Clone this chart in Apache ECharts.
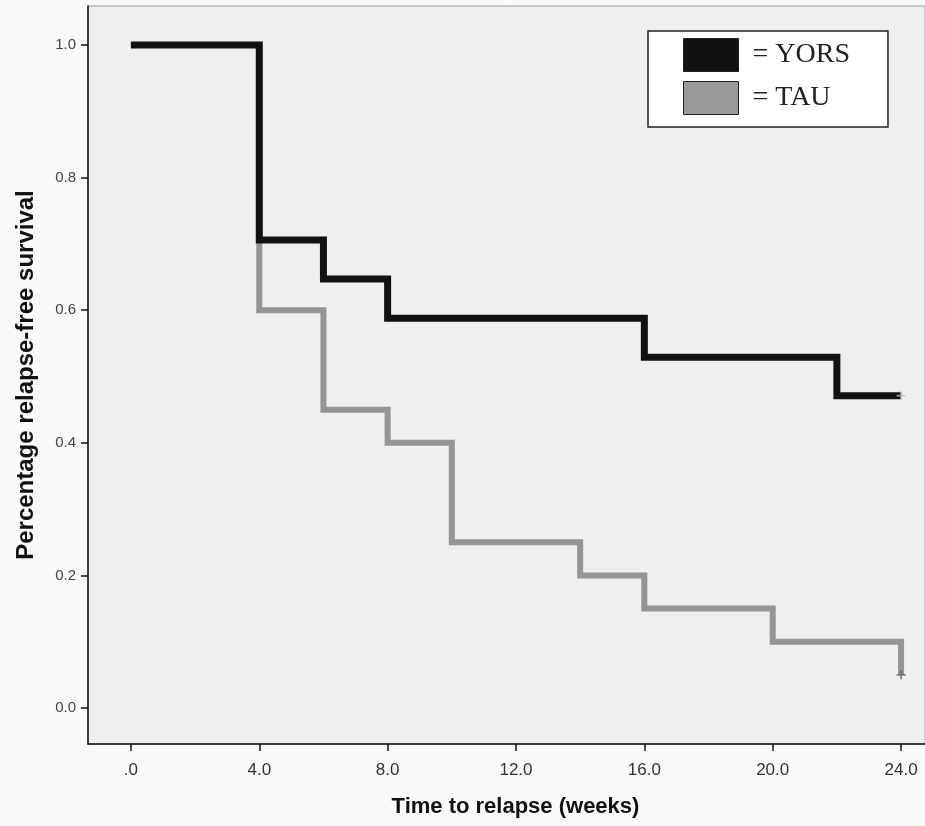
<!DOCTYPE html>
<html>
<head>
<meta charset="utf-8">
<script src="https://cdn.jsdelivr.net/npm/echarts@6/dist/echarts.min.js"></script>
<style>
  html, body { margin: 0; padding: 0; background: #fafafa; }
  #chart { width: 925px; height: 826px; }
</style>
</head>
<body>
<div id="chart"></div>
<script>
// Kaplan-Meier steps: [week, survival]
const yorsSteps = [[0, 1.0], [4, 0.706], [6, 0.647], [8, 0.588], [16, 0.529], [22, 0.471], [24, 0.471]];
const tauSteps = [[0, 1.0], [4, 0.60], [6, 0.45], [8, 0.40], [10, 0.25], [14, 0.20], [16, 0.15], [20, 0.10], [24, 0.05]];
// censored observations
const yorsCensored = [[24, 0.471]];
const tauCensored = [[24, 0.05]];

const xTicks = [0, 4, 8, 12, 16, 20, 24];
const xTickLabels = ['.0', '4.0', '8.0', '12.0', '16.0', '20.0', '24.0'];
const yTicks = [0, 0.2, 0.4, 0.6, 0.8, 1.0];
const yTickLabels = ['0.0', '0.2', '0.4', '0.6', '0.8', '1.0'];

const plus = 'path://M4,0h2v4h4v2h-4v4h-2v-4h-4v-2h4z';

const chart = echarts.init(document.getElementById('chart'));
chart.setOption({
  backgroundColor: '#fafafa',
  animation: false,
  grid: {
    left: 88,
    top: 6,
    right: -2,
    bottom: 82,
    show: true,
    backgroundColor: '#efefef',
    borderColor: '#999',
    borderWidth: 1,
  },
  legend: {
    data: ['YORS', 'TAU'],
    orient: 'vertical',
    left: 648,
    top: 31,
    icon: 'rect',
    itemWidth: 55,
    itemHeight: 33,
    itemGap: 9,
    padding: [7, 38, 12, 35],
    backgroundColor: '#fff',
    borderColor: '#222',
    borderWidth: 1.5,
    borderRadius: 0,
    itemStyle: { borderColor: '#222', borderWidth: 1 },
    formatter: name => '= ' + name,
    textStyle: {
      fontFamily: 'Liberation Serif, serif',
      fontSize: 28,
      color: '#222',
      padding: [0, 0, 0, 9],
    },
  },
  xAxis: {
    type: 'value',
    min: -1.337,
    max: 24.746,
    name: 'Time to relapse (weeks)',
    nameLocation: 'middle',
    nameGap: 52,
    nameTextStyle: {
      fontFamily: 'Liberation Sans, Arial, sans-serif',
      fontWeight: 'bold',
      fontSize: 22,
      color: '#111',
      padding: [0, 0, 0, 18],
    },
    axisLine: { show: true, onZero: false, lineStyle: { color: '#111', width: 1.5 } },
    axisTick: { show: true, customValues: xTicks, length: 7, lineStyle: { color: '#111', width: 1.5 } },
    axisLabel: {
      customValues: xTicks,
      formatter: v => xTickLabels[xTicks.indexOf(v)],
      margin: 18,
      fontFamily: 'Liberation Sans Narrow, Liberation Sans, sans-serif',
      fontSize: 17,
      color: '#333',
    },
    splitLine: { show: false },
  },
  yAxis: {
    type: 'value',
    min: -0.0543,
    max: 1.0588,
    name: 'Percentage relapse-free survival',
    nameLocation: 'middle',
    nameGap: 50,
    nameTextStyle: {
      fontFamily: 'Liberation Sans, Arial, sans-serif',
      fontWeight: 'bold',
      fontSize: 24,
      color: '#111',
    },
    axisLine: { show: true, onZero: false, lineStyle: { color: '#111', width: 1.5 } },
    axisTick: { show: true, customValues: yTicks, length: 7, lineStyle: { color: '#111', width: 1.5 } },
    axisLabel: {
      customValues: yTicks,
      formatter: v => yTickLabels[yTicks.indexOf(v)],
      margin: 12,
      fontFamily: 'Liberation Sans, Arial, sans-serif',
      fontSize: 15,
      color: '#444',
    },
    splitLine: { show: false },
  },
  series: [
    {
      name: 'YORS',
      type: 'line',
      step: 'end',
      data: yorsSteps,
      color: '#111',
      showSymbol: false,
      z: 4,
      lineStyle: { color: '#111', width: 7, join: 'miter', cap: 'butt' },
    },
    {
      name: 'TAU',
      type: 'line',
      step: 'end',
      data: tauSteps,
      color: '#999',
      showSymbol: false,
      z: 3,
      lineStyle: { color: '#959595', width: 6, join: 'miter', cap: 'butt' },
    },
    {
      name: 'YORS censored',
      type: 'scatter',
      data: yorsCensored,
      symbol: plus,
      symbolSize: 9,
      z: 5,
      itemStyle: { color: '#bbb' },
    },
    {
      name: 'TAU censored',
      type: 'scatter',
      data: tauCensored,
      symbol: plus,
      symbolSize: 9,
      z: 5,
      itemStyle: { color: '#666' },
    },
  ],
});
</script>
</body>
</html>
